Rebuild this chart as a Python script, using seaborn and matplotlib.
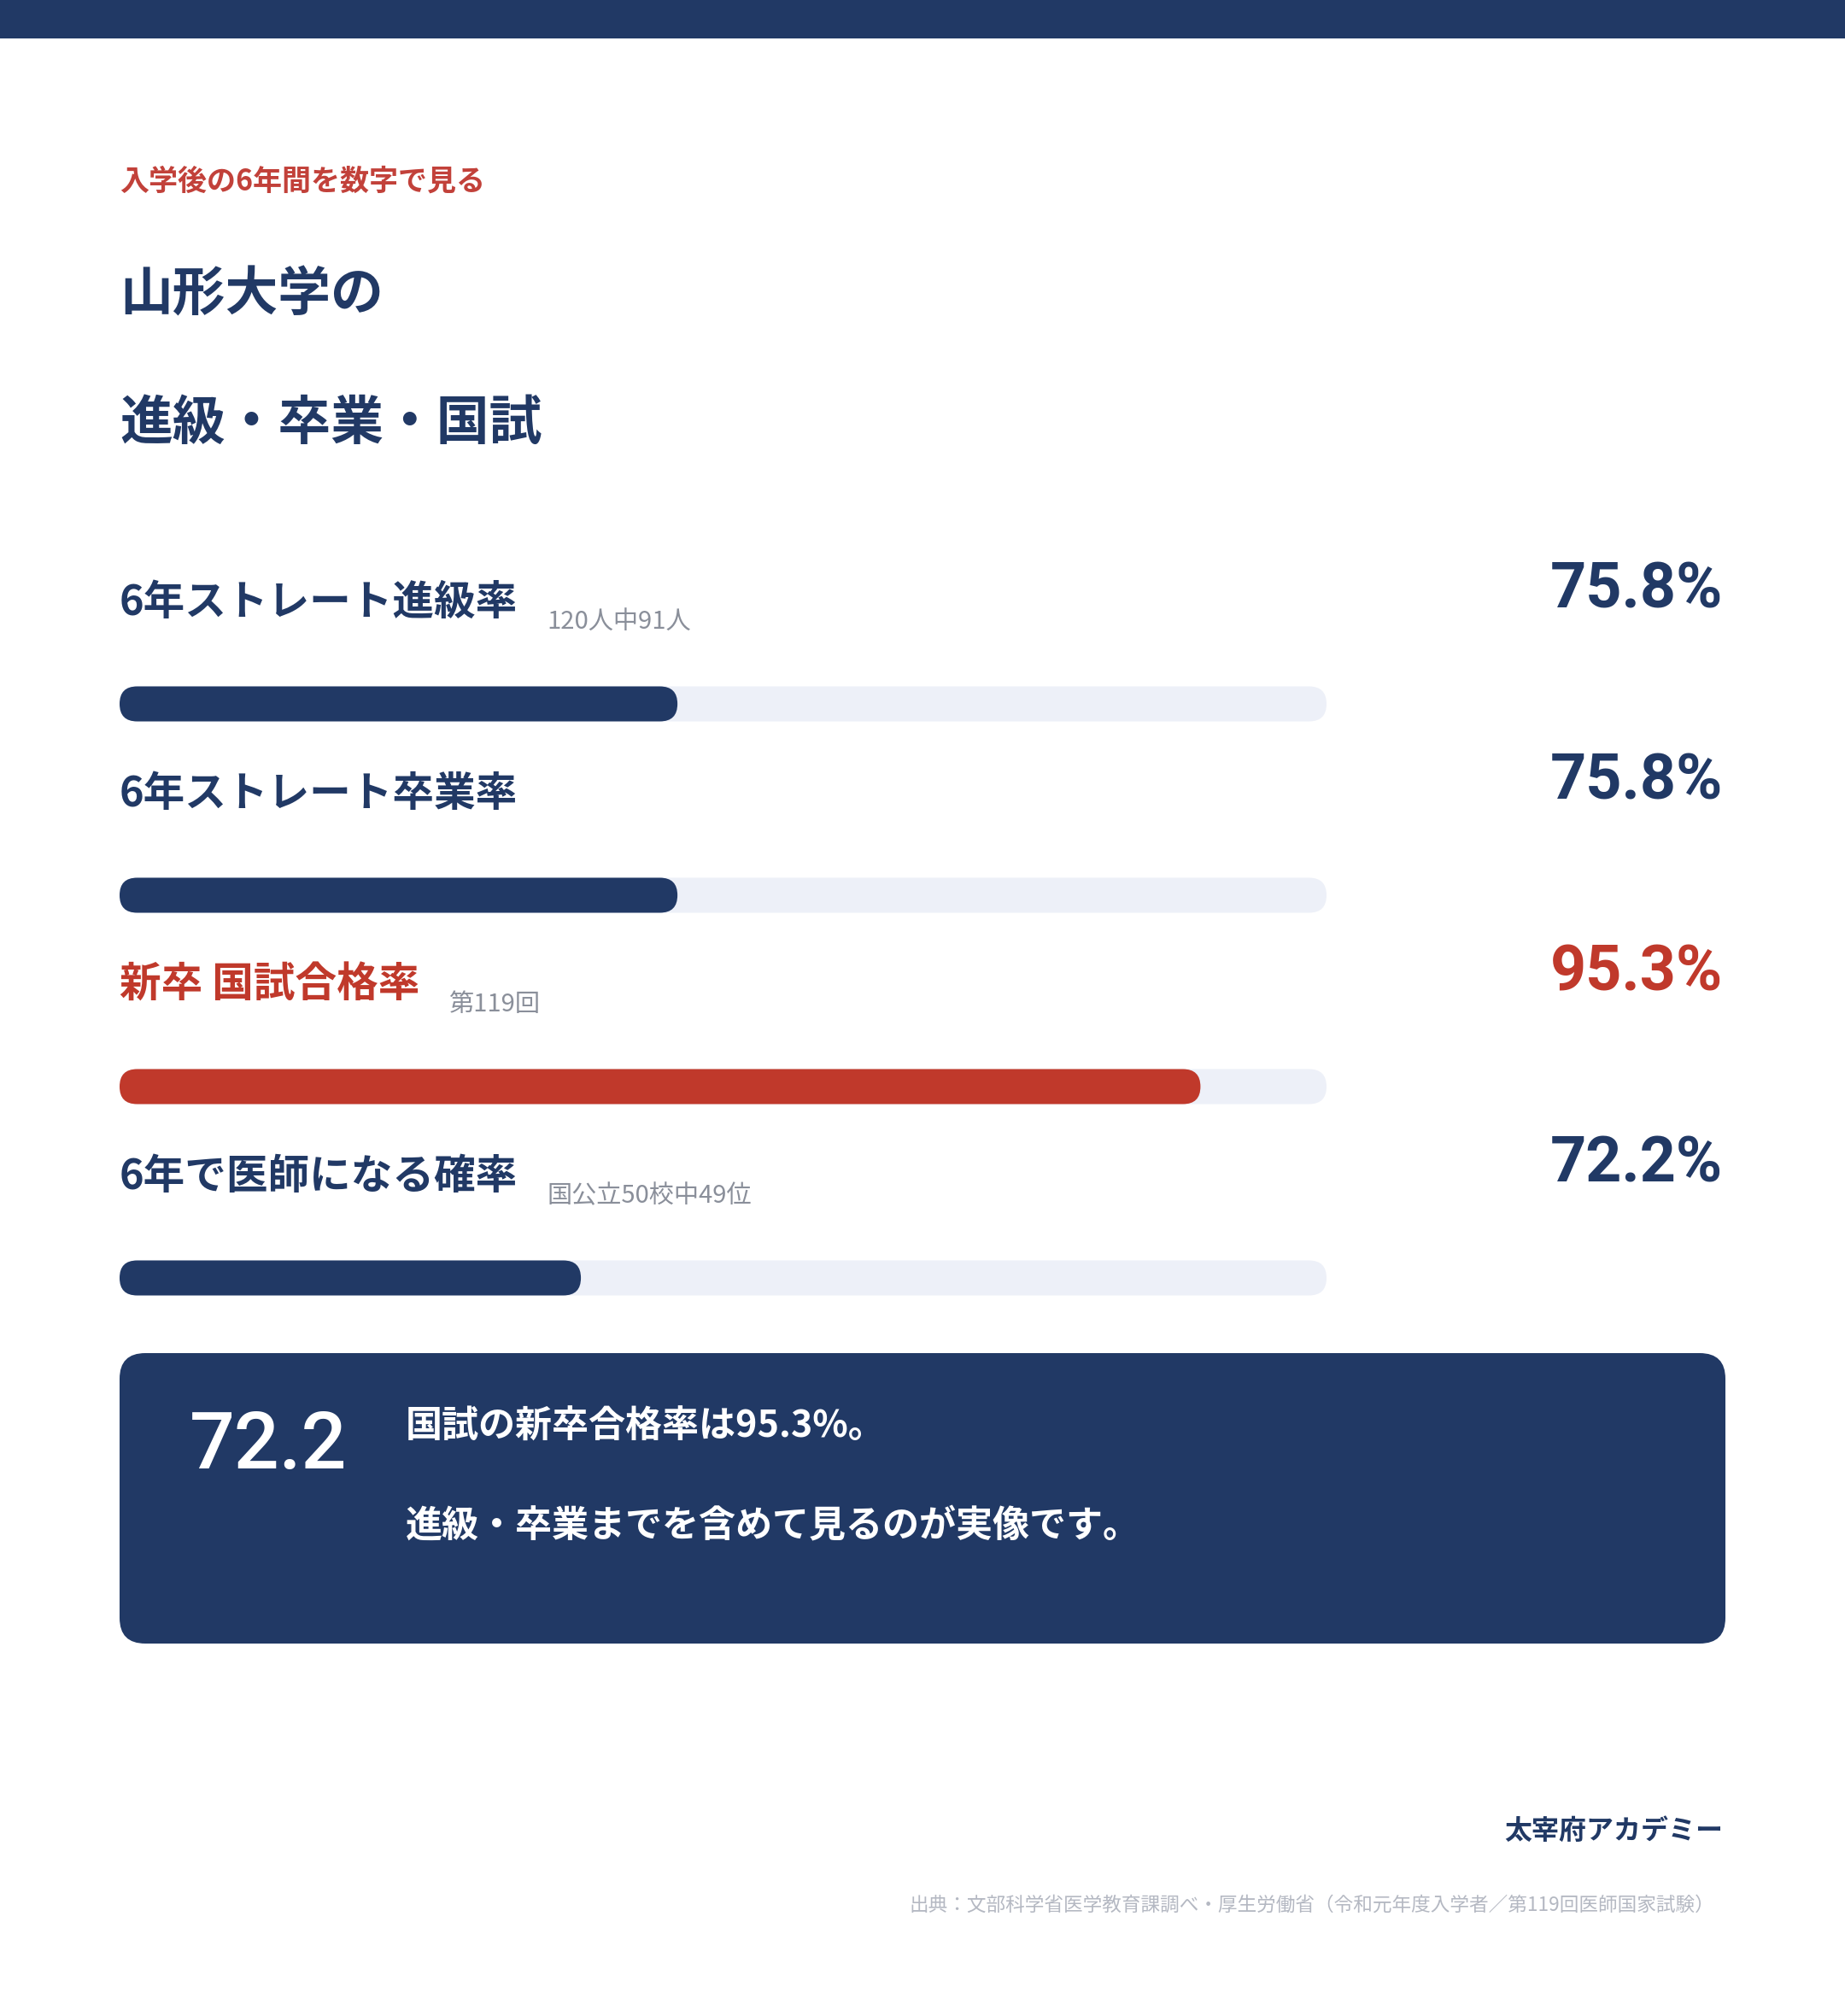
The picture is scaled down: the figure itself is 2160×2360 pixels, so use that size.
import matplotlib
matplotlib.use('Agg')
import matplotlib.pyplot as plt
from matplotlib.patches import FancyBboxPatch, Rectangle
import seaborn as sns

# data
labels = ['6年ストレート進級率', '6年ストレート卒業率', '新卒 国試合格率', '6年で医師になる確率']
values = [75.8, 75.8, 95.3, 72.2]
value_text = ['75.8%', '75.8%', '95.3%', '72.2%']
notes = ['120人中91人', '', '第119回', '国公立50校中49位']
highlight = [False, False, True, False]
axis_min = 55
axis_max = 100

NAVY = '#213965'
RED = '#c0392b'
TRACK = '#edf0f8'
GRAY = '#8a8f9a'
LIGHT = '#b4b8c2'

sns.set_theme(style='white')
plt.rcParams['font.family'] = ['Noto Sans CJK JP', 'DejaVu Sans']
NUM_FONT = ['Roboto', 'DejaVu Sans']

W, H = 2160, 2360
fig = plt.figure(figsize=(W / 100, H / 100), dpi=100)
fig.patch.set_facecolor('white')

# background axes in pixel coords (y from top)
bg = fig.add_axes([0, 0, 1, 1])
bg.set_xlim(0, W)
bg.set_ylim(H, 0)
bg.axis('off')

# top band
bg.add_patch(Rectangle((0, 0), W, 45, color=NAVY, lw=0))

# headings
bg.text(140, 212, '入学後の6年間を数字で見る', fontsize=24.5, fontweight='bold', color='#c2413a', va='center')
bg.text(140, 345, '山形大学の', fontsize=44.5, fontweight='bold', color=NAVY, va='center')
bg.text(140, 495, '進級・卒業・国試', fontsize=44.5, fontweight='bold', color=NAVY, va='center')

# bar axes: x from 140 to 1553 px, rows centred at 824 + 224*i
bar_h = 41
step = 224
top_px = 824 - step / 2
bot_px = 824 + step * 3.5
ax = fig.add_axes([140 / W, 1 - bot_px / H, 1413 / W, (bot_px - top_px) / H])
ax.patch.set_alpha(0)

colors = [RED if h else NAVY for h in highlight]
sns.barplot(x=[axis_max] * len(labels), y=labels, orient='h', color=TRACK,
            saturation=1, width=bar_h / step, ax=ax)
track_patches = list(ax.patches)
sns.barplot(x=values, y=labels, hue=labels, palette=colors, legend=False, orient='h',
            saturation=1, width=bar_h / step, ax=ax)
fill_patches = [p for p in ax.patches if p not in track_patches]
ax.set_xlim(axis_min, axis_max)
ax.set_ylim(len(labels) - 0.5, -0.5)
ax.axis('off')

fig.canvas.draw()


def to_px(x, y):
    dx, dy = ax.transData.transform((x, y))
    return dx, H - dy


# swap seaborn's square bars for rounded ones at the same spots
centres = []
for p in track_patches + fill_patches:
    x0 = max(p.get_x(), axis_min)
    x1 = p.get_x() + p.get_width()
    yc = p.get_y() + p.get_height() / 2
    px0, pyc = to_px(x0, yc)
    px1, _ = to_px(x1, yc)
    col = p.get_facecolor()
    p.remove()
    bg.add_patch(FancyBboxPatch((px0, pyc - bar_h / 2), px1 - px0, bar_h,
                                boxstyle=f'round,pad=0,rounding_size={bar_h / 2}',
                                fc=col, ec='none', lw=0, zorder=3 if p in fill_patches else 2))
    if p in track_patches:
        centres.append(pyc)

renderer = fig.canvas.get_renderer()
for i, lab in enumerate(labels):
    yc = centres[i]
    col = RED if highlight[i] else NAVY
    t = bg.text(140, yc - 119, lab, fontsize=35, fontweight='bold', color=col, va='center')
    if notes[i]:
        bb = t.get_window_extent(renderer)
        bg.text(bb.x1 + 34, yc - 96, notes[i], fontsize=21, color=GRAY, va='center')
    bg.text(2017, yc - 133, value_text[i], fontsize=53, fontweight='bold', color=col,
            va='center', ha='right', family=NUM_FONT)

# summary box
bg.add_patch(FancyBboxPatch((140, 1584), 1880, 340, boxstyle='round,pad=0,rounding_size=30',
                            fc=NAVY, ec='none', lw=0))
bg.text(222, 1693, f'{values[3]:.1f}', fontsize=67, fontweight='medium', color='white',
        va='center', family=NUM_FONT)
bg.text(475, 1670, f'国試の新卒合格率は{values[2]}%。', fontsize=31, fontweight='bold',
        color='white', va='center')
bg.text(475, 1785, '進級・卒業までを含めて見るのが実像です。', fontsize=31, fontweight='bold',
        color='white', va='center')

# footer
bg.text(2017, 2144, '太宰府アカデミー', fontsize=23, fontweight='bold', color=NAVY,
        va='center', ha='right')
bg.text(2007, 2230, '出典：文部科学省医学教育課調べ・厚生労働省（令和元年度入学者／第119回医師国家試験）',
        fontsize=16.3, color=LIGHT, va='center', ha='right')

fig.savefig('out.png', dpi=100, facecolor='white')
